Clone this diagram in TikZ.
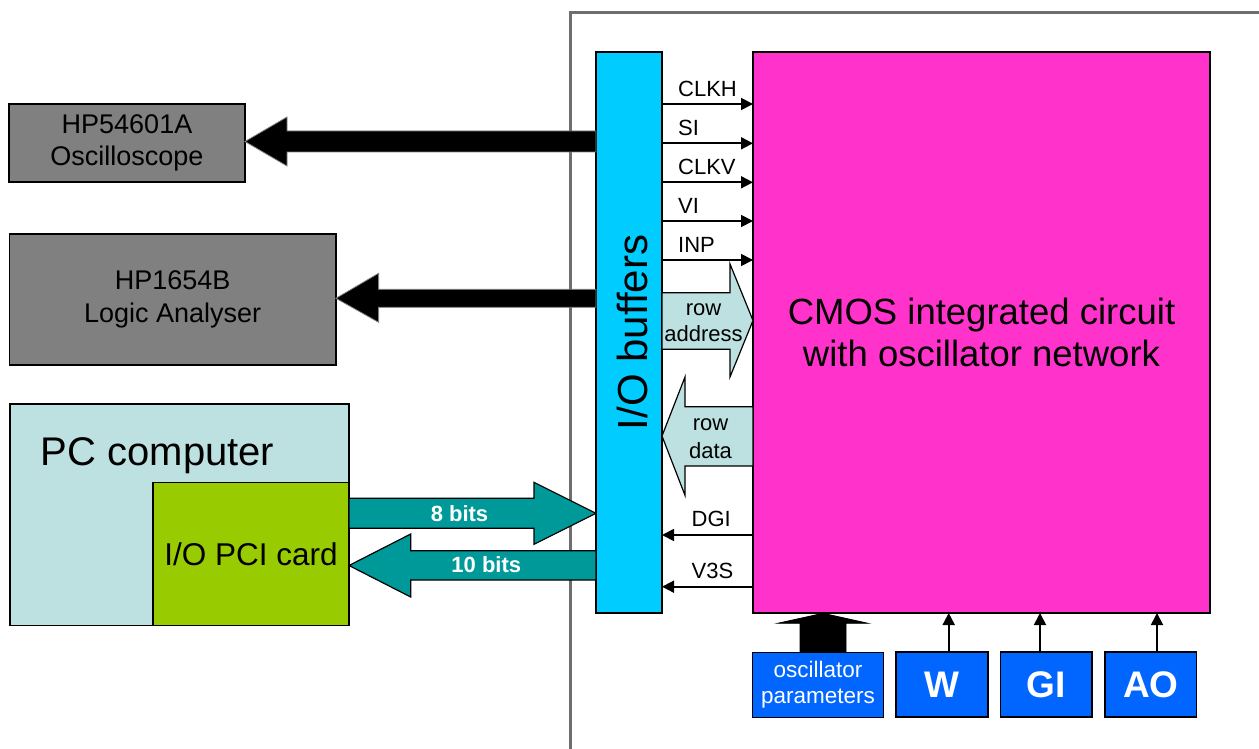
\documentclass[tikz,border=0pt]{standalone}
\usepackage{fontspec}
\setmainfont{Liberation Sans}
\usetikzlibrary{arrows.meta}
\definecolor{iocol}{HTML}{00CCFF}
\definecolor{cmoscol}{HTML}{FF33CC}
\definecolor{instcol}{HTML}{808080}
\definecolor{pccol}{HTML}{BDE1E1}
\definecolor{pcicol}{HTML}{99CC00}
\definecolor{tealcol}{HTML}{009999}
\definecolor{bluecol}{HTML}{0066FF}
\definecolor{framecol}{HTML}{6E6E6E}
\begin{document}
\begin{tikzpicture}[x=1pt,y=-1pt,
  box/.style={draw=black, line width=1.3pt, inner sep=0pt, outer sep=0pt, align=center},
  sig/.style={line width=1.8pt, -{Triangle[length=12pt,width=12pt]}},
  lbl/.style={font=\fontsize{22}{26.5}\selectfont, inner sep=0pt},
  fatblack/.style={fill=black, draw=instcol, line width=0.8pt},
  teal/.style={fill=tealcol, draw=black, line width=1.2pt},
  rowarr/.style={fill=pccol, draw=black, line width=1.2pt},
  bluebox/.style={box, fill=bluecol, text=white}
]
\useasboundingbox (0,0) rectangle (1259,749);
\fill[white] (0,0) rectangle (1259,749);
% frame
\draw[framecol, line width=3pt] (570,749) -- (570,12.5) -- (1259,12.5);

% main blocks
\node[box, fill=iocol, minimum width=66pt, minimum height=561pt] (io) at (629,332.5) {};
\node[rotate=90, font=\fontsize{42}{50}\selectfont, inner sep=0pt] (iolbl) at (632,332.5) {I/O buffers};
\node[box, fill=cmoscol, minimum width=457pt, minimum height=561pt,
  font=\fontsize{36.5}{41.7}\selectfont] (cmos) at (981.5,332.5)
  {CMOS integrated circuit\\with oscillator network};

% instruments
\node[box, fill=instcol, minimum width=236pt, minimum height=78pt,
  font=\fontsize{27}{32.5}\selectfont] (osc) at (127,143) {HP54601A\\Oscilloscope};
\node[box, fill=instcol, minimum width=326.5pt, minimum height=131pt,
  font=\fontsize{27}{33}\selectfont] (la) at (172.7,299.5) {HP1654B\\Logic Analyser};

% PC
\node[box, fill=pccol, minimum width=339pt, minimum height=221.7pt] (pc) at (179.5,514.85) {};
\node[lbl, font=\fontsize{40}{48}\selectfont, anchor=base west] (pclbl) at (40.7,465.7) {PC computer};
\node[box, fill=pcicol, minimum width=196pt, minimum height=143pt,
  font=\fontsize{31.5}{38}\selectfont] (pci) at (251,554.2) {I/O PCI card};

% fat black arrows
\draw[fatblack] (io.west |- 0,131) -- (287,131) -- (287,117) -- (osc.east |- 0,141.5)
  -- (287,166) -- (287,152) -- (io.west |- 0,152) -- cycle;
\draw[fatblack] (io.west |- 0,289.3) -- (378.6,289.3) -- (378.6,273.3) -- (la.east |- 0,298.3)
  -- (378.6,322.3) -- (378.6,307.3) -- (io.west |- 0,307.3) -- cycle;

% teal bus arrows
\draw[teal] (pci.east |- 0,498.3) -- (534,498.3) -- (534,482.3) -- (io.west |- 0,513.3)
  -- (534,544.3) -- (534,528.3) -- (pci.east |- 0,528.3) -- cycle;
\node[font=\bfseries\fontsize{22}{26}\selectfont, text=white, anchor=base, inner sep=0pt] (b8) at (459.5,521.7) {8 bits};
\draw[teal] (io.west |- 0,550.7) -- (410.7,550.7) -- (410.7,534) -- (pci.east |- 0,565.5)
  -- (410.7,597) -- (410.7,580) -- (io.west |- 0,580) -- cycle;
\node[font=\bfseries\fontsize{22}{26}\selectfont, text=white, anchor=base, inner sep=0pt] (b10) at (486.3,572.7) {10 bits};

% row address / row data
\draw[rowarr] (io.east |- 0,292.7) -- (730,292.7) -- (730,264) -- (cmos.west |- 0,320.5)
  -- (730,377) -- (730,349.3) -- (io.east |- 0,349.3) -- cycle;
\node[lbl, anchor=base] (ra1) at (703.5,315) {row};
\node[lbl, anchor=base] (ra2) at (703.5,341.7) {address};
\draw[rowarr] (cmos.west |- 0,406.7) -- (685,406.7) -- (685,377) -- (io.east |- 0,436)
  -- (685,495.3) -- (685,466) -- (cmos.west |- 0,466) -- cycle;
\node[lbl, anchor=base] (rd1) at (710.5,430.7) {row};
\node[lbl, anchor=base] (rd2) at (710.5,458.3) {data};

% control signals
\foreach \y/\t in {104/CLKH,143.3/SI,182.3/CLKV,221/VI,260/INP}{
  \draw[sig] (io.east |- 0,\y) -- (cmos.west |- 0,\y);
  \node[lbl, anchor=base west] at (678,\y-7.5) {\t};
}
\foreach \y/\t in {535/DGI,586.7/V3S}{
  \draw[sig] (cmos.west |- 0,\y) -- (io.east |- 0,\y);
  \node[lbl, anchor=base west] at (691.5,\y-8.7) {\t};
}

% bottom inputs
\node[bluebox, minimum width=131.4pt, minimum height=65pt,
  font=\fontsize{22.5}{26}\selectfont] (op) at (818,684.8) {oscillator\\parameters};
\node[bluebox, minimum width=92pt, minimum height=65pt,
  font=\bfseries\fontsize{37}{44}\selectfont] (w) at (942,684.5) {W};
\node[bluebox, minimum width=91.3pt, minimum height=65pt,
  font=\bfseries\fontsize{37}{44}\selectfont] (gi) at (1046.3,684.5) {GI};
\node[bluebox, minimum width=91.7pt, minimum height=65pt,
  font=\bfseries\fontsize{37}{44}\selectfont] (ao) at (1150.8,684.5) {AO};

\draw[fill=black, draw=black, line width=0.8pt] (800,652.3) -- (800,623.3) -- (777.7,623.3)
  -- (823,613.3) -- (868,623.3) -- (846,623.3) -- (846,652.3) -- cycle;
\draw[sig] (w.north -| 948.7,0) -- (cmos.south -| 948.7,0);
\draw[sig] (gi.north -| 1040,0) -- (cmos.south -| 1040,0);
\draw[sig] (ao.north -| 1157,0) -- (cmos.south -| 1157,0);
\end{tikzpicture}
\end{document}
